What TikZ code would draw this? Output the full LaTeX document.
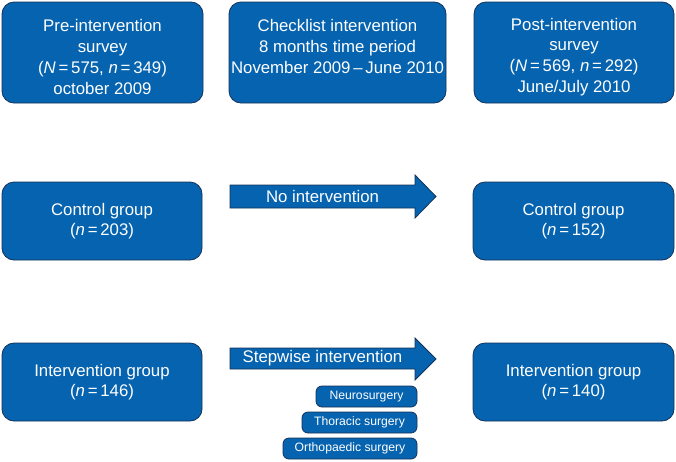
\documentclass[tikz,border=0pt]{standalone}
\usepackage{fontspec}
\setmainfont{Liberation Sans}
\definecolor{boxblue}{RGB}{5,99,176}
\definecolor{boxedge}{RGB}{22,50,88}
\begin{document}
\begin{tikzpicture}[x=1pt,y=-1pt,
  bigbox/.style={draw=boxedge, line width=0.8pt, fill=boxblue, rounded corners=12pt, text=white, align=center, inner sep=0pt, font=\fontsize{16.8}{20.7}\selectfont},
  boxtext/.style={text=white, align=center, inner sep=0pt, font=\fontsize{16.8}{20.7}\selectfont},
  smallbox/.style={draw=boxedge, line width=0.8pt, fill=boxblue, rounded corners=6pt, text=white, align=center, inner sep=0pt, minimum height=21pt, font=\fontsize{12.2}{14}\selectfont},
  blockarrow/.style={draw=boxedge, line width=0.8pt, fill=boxblue},
  arrowtext/.style={text=white, inner sep=0pt, font=\fontsize{16.8}{18}\selectfont}]
\useasboundingbox (0,0) rectangle (676,461);
% top row
\node[bigbox, minimum width=201pt, minimum height=101pt] (pre) at (102.5,52.5) {};
\node[boxtext] (pretext) at (102.5,57)
  {Pre-intervention\\survey\\(\textit{N}\,=\,575, \textit{n}\,=\,349)\\october 2009};
\node[bigbox, minimum width=217pt, minimum height=101pt] (check) at (337.5,52.5) {};
\node[boxtext, anchor=north] (checktext) at (pretext.north -| check.center)
  {Checklist intervention\\8 months time period\\November 2009\,--\,June 2010};
\node[bigbox, minimum width=200pt, minimum height=101pt] (post) at (574,52.5) {};
\node[boxtext] (posttext) at (574,57)
  {Post-intervention\\survey\\(\textit{N}\,=\,569, \textit{n}\,=\,292)\\June/July 2010};
% middle row
\node[bigbox, minimum width=200pt, minimum height=78pt] (ctrlpre) at (102,221)
  {Control group\\(\textit{n}\,=\,203)};
\node[bigbox, minimum width=201pt, minimum height=78pt] (ctrlpost) at (573.5,221)
  {Control group\\(\textit{n}\,=\,152)};
\draw[blockarrow] (230,185) -- (415,185) -- (415,175) -- (436,196.5) -- (415,218) -- (415,208) -- (230,208) -- cycle;
\node[arrowtext] (noint) at (322.5,196.5) {No intervention};
% bottom row
\node[bigbox, minimum width=200pt, minimum height=78pt] (intpre) at (102,382)
  {Intervention group\\(\textit{n}\,=\,146)};
\node[bigbox, minimum width=201pt, minimum height=78pt] (intpost) at (573.5,382)
  {Intervention group\\(\textit{n}\,=\,140)};
\draw[blockarrow] (230,348) -- (415,348) -- (415,338) -- (436,359) -- (415,380) -- (415,369) -- (230,369) -- cycle;
\node[arrowtext] (stepint) at (322.5,358.5) {Stepwise intervention};
% specialties
\node[smallbox, minimum width=101pt] (neuro) at (366.5,396.5) {Neurosurgery};
\node[smallbox, minimum width=115pt] (thor) at (359.5,422.5) {Thoracic surgery};
\node[smallbox, minimum width=134pt] (ortho) at (350,448.5) {Orthopaedic surgery};
\end{tikzpicture}
\end{document}
